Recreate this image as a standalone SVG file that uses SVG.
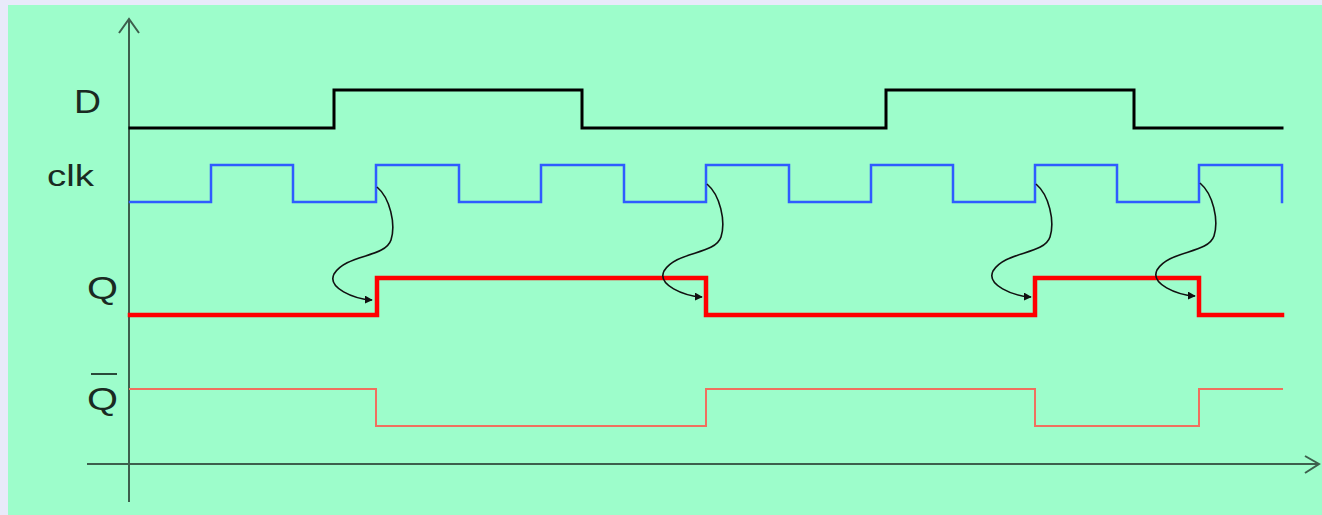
<svg xmlns="http://www.w3.org/2000/svg" width="1322" height="515" viewBox="0 0 1322 515">
<defs>
<style>
.lbl{font-family:"Liberation Sans",Arial,sans-serif;fill:#1a2a22;}
.axis{stroke:#3d5f4d;stroke-width:2;fill:none;}
.sig{fill:none;stroke-linejoin:miter;stroke-linecap:square;}
.cause{fill:none;stroke:#111;stroke-width:1.6;marker-end:url(#ah);}
</style>
<marker id="ah" viewBox="0 0 10 10" refX="9" refY="5" markerWidth="8" markerHeight="8" markerUnits="userSpaceOnUse" orient="auto">
<path d="M0,0 L10,5 L0,10 z" fill="#111"/>
</marker>
<path id="cz" d="M1,185 C 14,196 20,222 15,238 C 9,256 -30,252 -42,272 C -49,286 -22,297 -4,298"/>
</defs>
<rect x="0" y="0" width="1322" height="515" fill="#e8eafa"/>
<rect x="8" y="5" width="1314" height="510" fill="#9dfdcb"/>
<g id="axes">
<path class="axis" d="M129,502 V19 M119,33 L129,19 L139,33"/>
<path class="axis" d="M87,464 H1319 M1305,456 L1319,464 L1305,473"/>
</g>
<g id="labels">
<text class="lbl" x="74" y="113" font-size="33" textLength="27" lengthAdjust="spacingAndGlyphs">D</text>
<text class="lbl" x="47" y="186" font-size="29" textLength="47" lengthAdjust="spacingAndGlyphs">clk</text>
<text class="lbl" x="87" y="299" font-size="31" textLength="31" lengthAdjust="spacingAndGlyphs">Q</text>
<text class="lbl" x="87" y="410" font-size="31" textLength="31" lengthAdjust="spacingAndGlyphs">Q</text>
<line x1="91" y1="374" x2="117" y2="374" stroke="#2a4a3a" stroke-width="2"/>
</g>
<g id="signal-D">
<path class="sig" stroke="#000" stroke-width="3" d="M130,128 H334 V90 H582 V128 H886 V90 H1134 V128 H1282"/>
</g>
<g id="signal-clk">
<path class="sig" stroke="#2f5cff" stroke-width="2.5" d="M130,202 H211 V165 H293 V202 H376 V165 H459 V202 H541 V165 H624 V202 H706 V165 H789 V202 H871 V165 H953 V202 H1035 V165 H1117 V202 H1199 V165 H1282 V202"/>
</g>
<g id="signal-Q">
<path class="sig" stroke="#ff0000" stroke-width="4.5" d="M130,315 H377 V278 H706 V315 H1035 V278 H1199 V315 H1282"/>
</g>
<g id="signal-Qbar">
<path class="sig" stroke="#f0705e" stroke-width="2" d="M130,389 H376 V426 H706 V389 H1035 V426 H1199 V389 H1282"/>
</g>
<g id="connectors">
<use href="#cz" class="cause" transform="translate(376,2)"/>
<use href="#cz" class="cause" transform="translate(706,-1)"/>
<use href="#cz" class="cause" transform="translate(1035,-1)"/>
<use href="#cz" class="cause" transform="translate(1199,-2)"/>
</g>
</svg>
